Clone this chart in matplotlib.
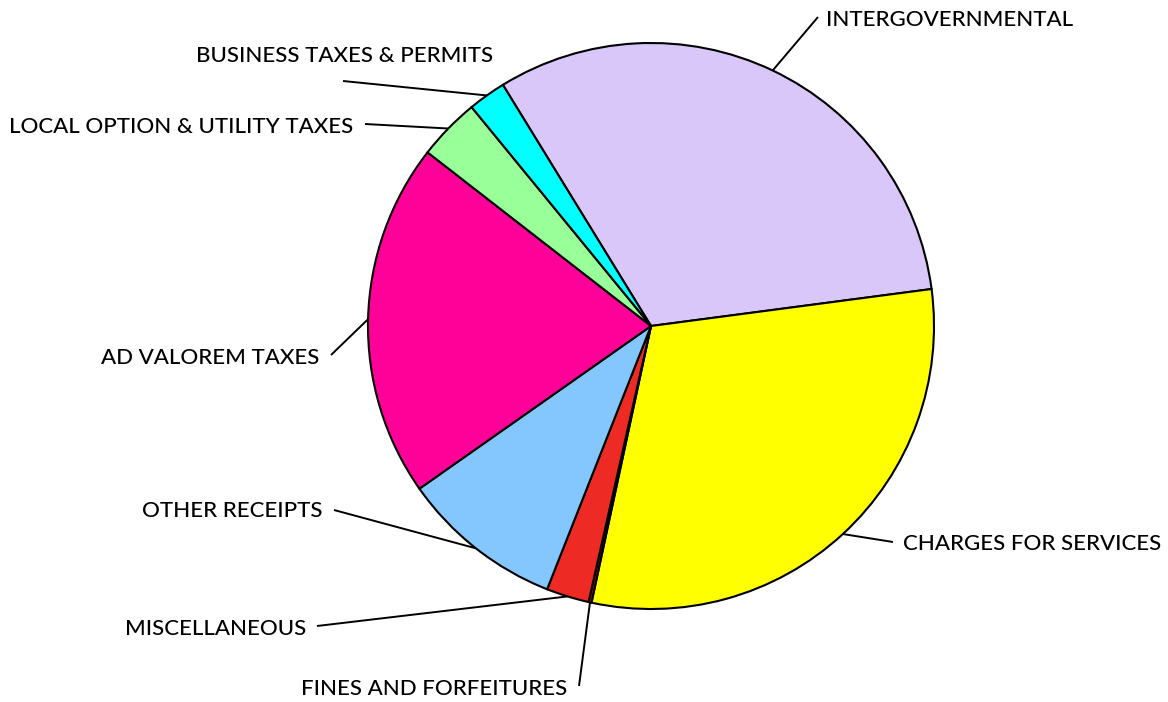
import numpy as np
import matplotlib.pyplot as plt

# revenue sources, share of total (%), clockwise from the top
sources = ["INTERGOVERNMENTAL", "CHARGES FOR SERVICES", "FINES AND FORFEITURES",
           "MISCELLANEOUS", "OTHER RECEIPTS", "AD VALOREM TAXES",
           "LOCAL OPTION & UTILITY TAXES", "BUSINESS TAXES & PERMITS"]
shares = [31.68, 30.46, 0.17, 2.44, 9.27, 20.26, 3.56, 2.16]
colors = ["#D9C7F9", "#FFFF00", "#C00000", "#EE2A24", "#84C7FF", "#FF0099",
          "#99FF99", "#00FFFF"]

W, H = 1168, 702
cx, cy, R = 651, 326, 283

# label anchor (left x, baseline y, ha) and leader end point, in pixels from top-left
label_pos = [(826, 26, "left"), (903, 550, "left"), (567, 695, "right"),
             (306, 635, "right"), (322, 517, "right"), (319, 364, "right"),
             (353, 133, "right"), (493, 62, "right")]
leader_end = [(818, 17), (893, 542), (579, 686), (317, 626), (334, 510),
              (331, 355), (365, 124), (343, 81)]

plt.rcParams['font.family'] = ['Lato', 'DejaVu Sans']

fig = plt.figure(figsize=(W / 100, H / 100), dpi=100)
ax = fig.add_axes([0, 0, 1, 1])

wedges, _ = ax.pie(shares, colors=colors, startangle=121.56, counterclock=False,
                   center=(cx, H - cy), radius=R,
                   wedgeprops=dict(edgecolor="black", linewidth=1.5))
ax.set_xlim(0, W)
ax.set_ylim(0, H)
ax.set_aspect("equal")
ax.axis("off")

for w, name, (tx, ty, ha), (ex, ey) in zip(wedges, sources, label_pos, leader_end):
    mid = np.deg2rad((w.theta1 + w.theta2) / 2)
    px, py = cx + R * np.cos(mid), (H - cy) + R * np.sin(mid)
    ax.plot([px, ex], [py, H - ey], color="black", lw=1.4, solid_capstyle="butt")
    ax.text(tx, H - ty, name, ha=ha, va="baseline", fontsize=16,
            fontweight="medium", color="black")

fig.savefig("out.png", dpi=100)
